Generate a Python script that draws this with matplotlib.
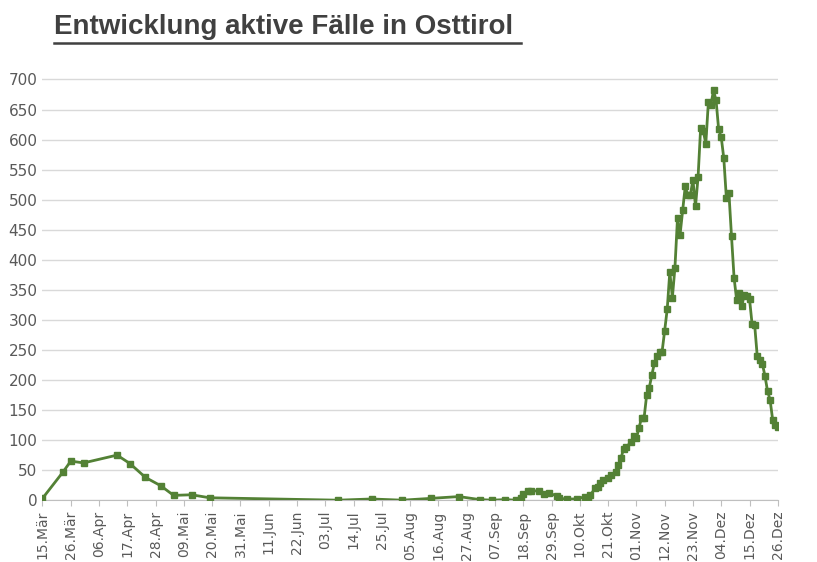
import matplotlib
matplotlib.use("Agg")
import matplotlib.pyplot as plt

# day offsets from 15.Mär
days = [0,8,11,16,29,34,40,46,51,58,65,115,128,140,151,162,170,175,180,184,186,187,189,190,193,195,197,200,201,204,208,211,
        212,213,215,216,217,218,220,221,223,224,225,226,227,229,230,231,232,233,234,235,236,237,238,239,240,241,242,243,244,245,
        246,247,248,249,250,251,252,253,254,255,256,257,258,259,260,261,262,263,264,265,266,267,268,269,270,271,272,273,274,275,
        276,277,278,279,280,281,282,283,284,285,286]
values = [3,47,65,62,75,61,38,24,8,9,4,0,2,0,3,6,1,0,1,0,4,10,15,16,15,10,12,7,3,2,2,6,
          1,8,20,22,28,33,37,42,47,58,70,85,89,96,106,103,120,137,137,175,187,208,228,240,247,247,282,318,380,337,
          387,470,442,482,522,508,508,533,489,538,620,615,593,662,658,682,665,617,604,569,503,511,439,370,333,345,323,342,339,335,
          293,292,240,233,227,207,182,167,134,125,122]
tick_labels = ["15.Mär","26.Mär","06.Apr","17.Apr","28.Apr","09.Mai","20.Mai","31.Mai","11.Jun","22.Jun","03.Jul",
               "14.Jul","25.Jul","05.Aug","16.Aug","27.Aug","07.Sep","18.Sep","29.Sep","10.Okt","21.Okt","01.Nov",
               "12.Nov","23.Nov","04.Dez","15.Dez","26.Dez"]
yticks = list(range(0, 701, 50))

fig = plt.figure(figsize=(8.17, 5.62), dpi=100)
ax = fig.add_axes([0.052, 0.11, 0.9, 0.77])
color = "#538135"
ax.plot(days, values, color=color, lw=2, marker="s", ms=4, zorder=3)
ax.set_xlim(0, 286)
ax.set_ylim(0, 720)
ax.set_yticks(yticks)
ax.set_xticks([11 * i for i in range(len(tick_labels))])
ax.set_xticklabels(tick_labels, rotation=90, fontsize=10, color="#595959")
ax.tick_params(axis="y", labelsize=11, colors="#595959", length=0)
ax.tick_params(axis="x", length=4, color="#bfbfbf")
ax.grid(axis="y", color="#d9d9d9", lw=1)
ax.set_axisbelow(True)
for s in ["top", "right", "left"]:
    ax.spines[s].set_visible(False)
ax.spines["bottom"].set_color("#bfbfbf")
fig.text(0.066, 0.952, "Entwicklung aktive Fälle in Osttirol", fontsize=20, fontweight="bold",
         color="#404040", ha="left", va="center", fontfamily="Liberation Sans")
fig.add_artist(plt.Line2D([0.066, 0.638], [0.924, 0.924], color="#404040", lw=1.8))
fig.savefig("out.png", dpi=100)
